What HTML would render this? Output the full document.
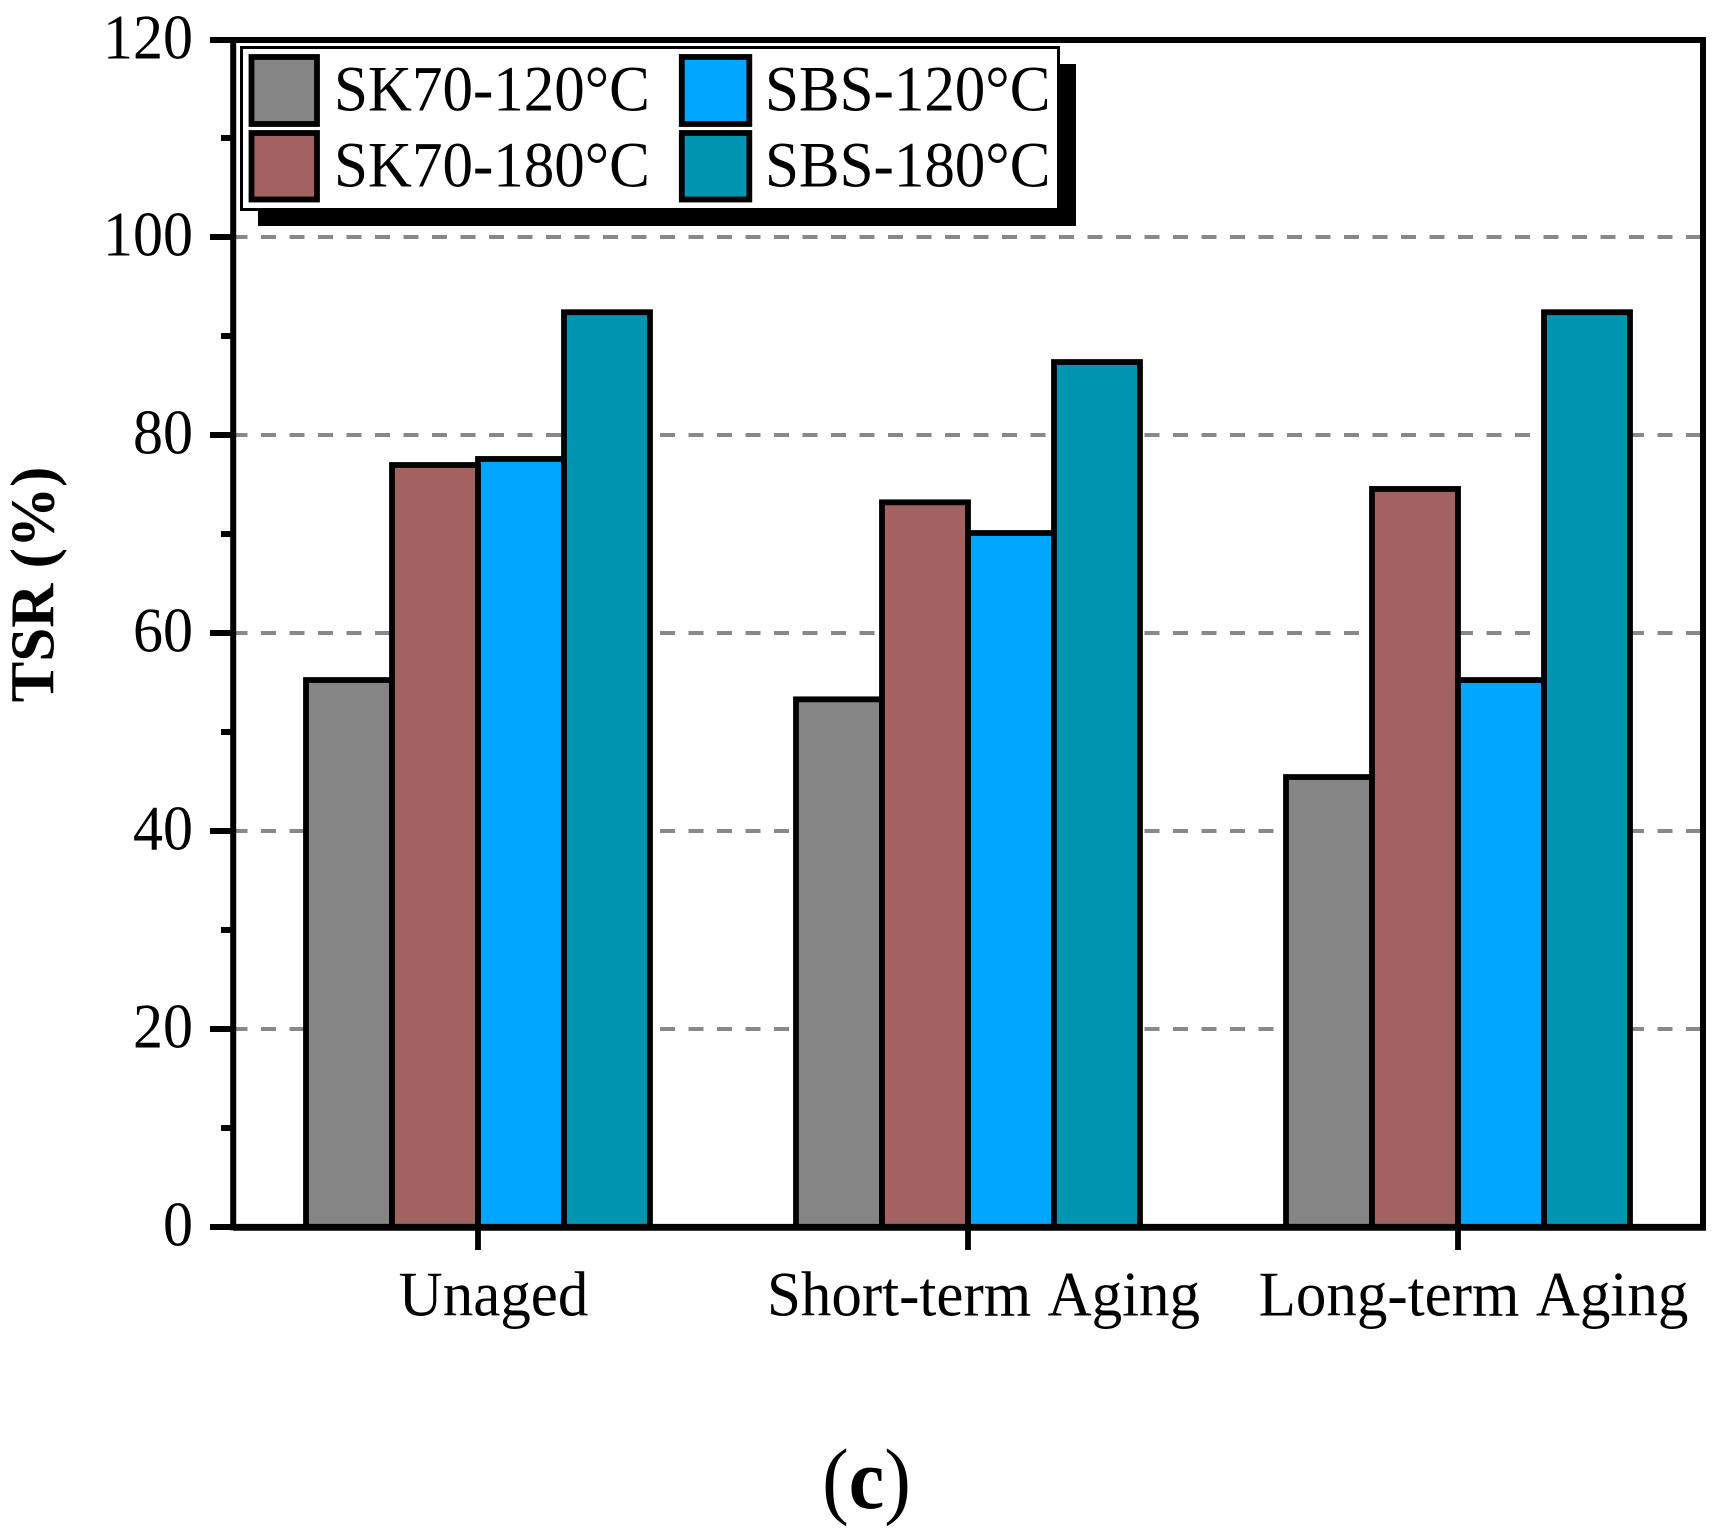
<!DOCTYPE html>
<html lang="en">
<head>
<meta charset="utf-8">
<title>TSR bar chart</title>
<style>
  html, body { margin: 0; padding: 0; background: #fff; }
  svg { display: block; }
  text { font-family: "Liberation Serif", serif; fill: #000; }
</style>
</head>
<body>
<svg id="chart" width="1725" height="1540" viewBox="0 0 1725 1540" xmlns="http://www.w3.org/2000/svg">
  <rect x="0" y="0" width="1725" height="1540" fill="#ffffff"/>
  <g id="grid"></g>
  <g id="bars"></g>
  <g id="axes"></g>
  <text transform="translate(53.5 584.5) rotate(-90) scale(0.985 1)" text-anchor="middle" font-size="62" font-weight="700">TSR (%)</text>
  <g>
    <rect x="258" y="64" width="818" height="162" fill="#000"/>
    <rect x="241.5" y="47.5" width="817" height="162" fill="#fff" stroke="#000" stroke-width="3"/>
    <g>
      <rect x="251.5" y="57" width="65.5" height="67" fill="#858585" stroke="#000" stroke-width="5.8"/>
      <text transform="translate(334 110.5) scale(1 1.06)" font-size="61">SK70-120°C</text>
    </g>
    <g>
      <rect x="251.5" y="133" width="65.5" height="66.5" fill="#A26262" stroke="#000" stroke-width="5.8"/>
      <text transform="translate(334 186.5) scale(1 1.06)" font-size="61">SK70-180°C</text>
    </g>
    <g>
      <rect x="681.8" y="57" width="67.5" height="67" fill="#00A6FF" stroke="#000" stroke-width="5.8"/>
      <text transform="translate(765 110.5) scale(1 1.06)" font-size="61">SBS-120°C</text>
    </g>
    <g>
      <rect x="681.8" y="133" width="67.5" height="66.5" fill="#0095B0" stroke="#000" stroke-width="5.8"/>
      <text transform="translate(765 186.5) scale(1 1.06)" font-size="61">SBS-180°C</text>
    </g>
  </g>
  <text transform="translate(866.5 1508) scale(1 1.07)" text-anchor="middle" font-size="80">(<tspan font-weight="700">c</tspan>)</text>
</svg>
<script>
var categories = ["Unaged", "Short-term Aging", "Long-term Aging"];
var seriesNames = ["sk70-120", "sk70-180", "sbs-120", "sbs-180"];
var sk70at120 = [55.25, 53.3, 45.45];
var sk70at180 = [76.97, 73.2, 74.55];
var sbsAt120 = [77.58, 70.1, 55.25];
var sbsAt180 = [92.4, 87.37, 92.4];
var majorTicks = [0, 20, 40, 60, 80, 100, 120];
var minorTicks = [10, 30, 50, 70, 90, 110];
var gridTicks = [20, 40, 60, 80, 100];

var seriesValues = [sk70at120, sk70at180, sbsAt120, sbsAt180];
var seriesColors = ["#858585", "#A26262", "#00A6FF", "#0095B0"];
var NS = "http://www.w3.org/2000/svg";
var plotLeft = 233.2, plotRight = 1703, plotTop = 40, plotBottom = 1227.3;
var yZero = 1227, yUnit = 9.9;
var firstCenter = 478, groupStep = 490, barWidth = 86;

function yScale(v) { return yZero - v * yUnit; }
function xCenter(i) { return firstCenter + i * groupStep; }
function barX(i, s) { return xCenter(i) + (s - 2) * barWidth; }

function make(tag, attrs, parent) {
  var el = document.createElementNS(NS, tag);
  for (var k in attrs) { el.setAttribute(k, attrs[k]); }
  parent.appendChild(el);
  return el;
}

var gridG = document.getElementById("grid");
var barsG = document.getElementById("bars");
var axesG = document.getElementById("axes");

gridTicks.forEach(function (t) {
  var line = make("line", { x1: 232.5, x2: plotRight, y1: yScale(t), y2: yScale(t), stroke: "#888888", "stroke-width": 4, "stroke-dasharray": "15 13.5" }, gridG);
  
  
});

categories.forEach(function (cat, i) {
  seriesValues.forEach(function (vals, s) {
    var top = yScale(vals[i]);
    var bar = make("rect", { x: barX(i, s), y: top, width: barWidth, height: plotBottom - top, fill: seriesColors[s], stroke: "#000", "stroke-width": 5.8 }, barsG);
    
    
  });
});

var frame = make("rect", { x: plotLeft, y: plotTop, width: plotRight - plotLeft, height: plotBottom - plotTop, fill: "none", stroke: "#000", "stroke-width": 6 }, axesG);



var xAxisLine = make("line", { x1: plotLeft, x2: plotRight + 3, y1: plotBottom, y2: plotBottom, stroke: "#000", "stroke-width": 6.8 }, axesG);



majorTicks.forEach(function (t) {
  var y = t === 120 ? plotTop : yScale(t);
  var tick = make("line", { x1: 210, x2: plotLeft, y1: y, y2: y, stroke: "#000", "stroke-width": 6 }, axesG);
  
  
  var label = make("text", { transform: "translate(193 " + (y + 18.5) + ") scale(1 1.06)", "text-anchor": "end", "font-size": 60 }, axesG);
  label.textContent = String(t);
  
  
});

minorTicks.forEach(function (t) {
  var y = yScale(t);
  var tick = make("line", { x1: 221, x2: plotLeft, y1: y, y2: y, stroke: "#000", "stroke-width": 6 }, axesG);
  
  
});

categories.forEach(function (cat, i) {
  var x = xCenter(i);
  var tick = make("line", { x1: x, x2: x, y1: plotBottom, y2: 1250, stroke: "#000", "stroke-width": 5.8 }, axesG);
  
  
  var label = make("text", { transform: "translate(" + (x + 15.5) + " 1315.5) scale(1 1.04)", "text-anchor": "middle", "font-size": 61, "word-spacing": "4.5px" }, axesG);
  label.textContent = cat;
  
  
});
</script>
</body>
</html>
